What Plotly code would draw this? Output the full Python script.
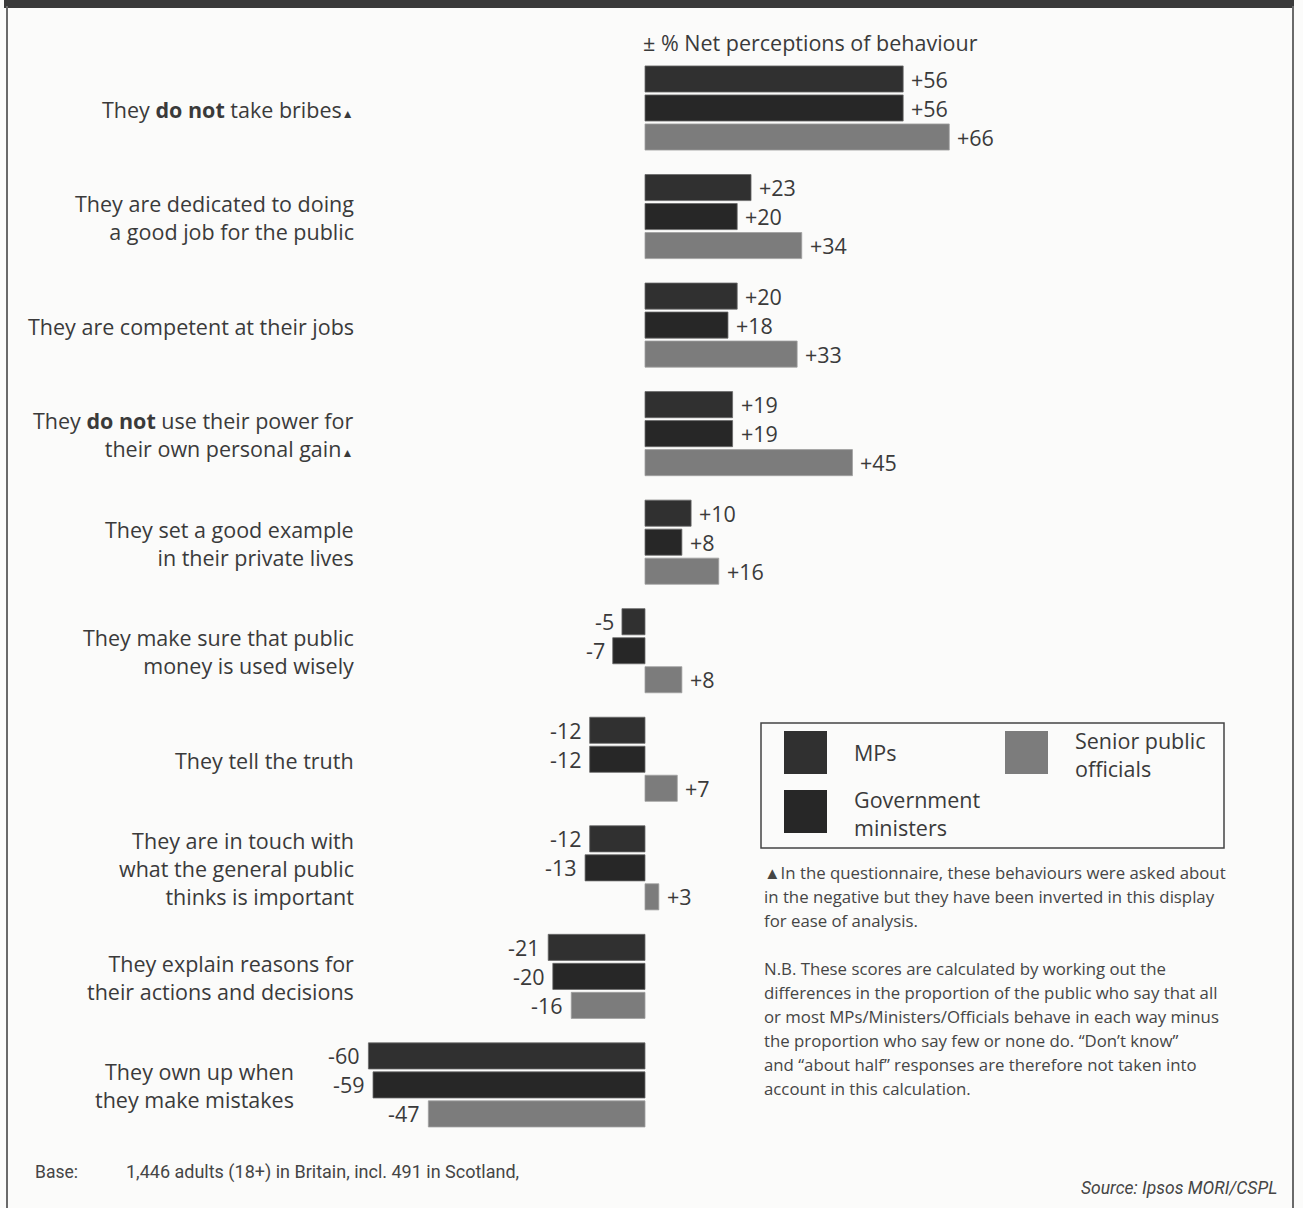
import plotly.graph_objects as go

# Behaviour statements (top to bottom)
behaviours = [
    "They <b>do not</b> take bribes<span style='font-size:12px'>▲</span>",
    "They are dedicated to doing<br>a good job for the public",
    "They are competent at their jobs",
    "They <b>do not</b> use their power for<br>their own personal gain<span style='font-size:12px'>▲</span>",
    "They set a good example<br>in their private lives",
    "They make sure that public<br>money is used wisely",
    "They tell the truth",
    "They are in touch with<br>what the general public<br>thinks is important",
    "They explain reasons for<br>their actions and decisions",
    "They own up when<br>they make mistakes",
]

# Net perception scores (%)
mps = [56, 23, 20, 19, 10, -5, -12, -12, -21, -60]
ministers = [56, 20, 18, 19, 8, -7, -12, -13, -20, -59]
officials = [66, 34, 33, 45, 16, 8, 7, 3, -16, -47]

series = [
    ("MPs", mps, "#303030"),
    ("Government ministers", ministers, "#272727"),
    ("Senior public officials", officials, "#7c7c7c"),
]

W, H = 1303, 1208
GROUP_STEP = 3.743      # slots between group centres
BAR_W = 0.9
TEXT = "#3a3a3a"
FONT = "Open Sans"
LABEL_SIZE = 21.5


def px_x(p):
    return p / W


def px_y(p):
    return 1 - p / H


fig = go.Figure()
annotations = []

for j, (name, vals, col) in enumerate(series):
    ys = [i * GROUP_STEP + (j - 1) for i in range(len(vals))]
    fig.add_trace(go.Bar(
        x=vals,
        y=ys,
        orientation="h",
        name=name,
        width=BAR_W,
        marker=dict(color=col, line=dict(width=0.8, color="#6a6a6a" if j < 2 else "#a0a0a0")),
        showlegend=False,
        hoverinfo="skip",
    ))
    # value labels just beyond the end of each bar
    for v, y in zip(vals, ys):
        annotations.append(dict(
            x=v, xref="x", y=y, yref="y",
            xanchor="left" if v >= 0 else "right", yanchor="middle",
            xshift=6 if v >= 0 else -6,
            text=f"{v:+d}" if v >= 0 else f"{v:d}", showarrow=False,
            font=dict(family=FONT, size=LABEL_SIZE, color=TEXT),
        ))

# Statement labels, right aligned to the left of the bars
for i, lab in enumerate(behaviours):
    right = 296 if i == len(behaviours) - 1 else 356
    annotations.append(dict(
        x=px_x(right), xref="paper", xanchor="right",
        y=i * GROUP_STEP, yref="y", yanchor="middle", yshift=-1,
        text=lab, align="right", showarrow=False,
        font=dict(family=FONT, size=LABEL_SIZE, color=TEXT),
    ))

# Axis heading
annotations.append(dict(
    x=px_x(641), xref="paper", xanchor="left",
    y=px_y(42), yref="paper", yanchor="middle",
    text="± % Net perceptions of behaviour", showarrow=False,
    font=dict(family=FONT, size=LABEL_SIZE, color=TEXT),
))

shapes = [
    # top band
    dict(type="rect", xref="paper", yref="paper",
         x0=px_x(4), x1=px_x(1294), y0=px_y(0), y1=px_y(8),
         fillcolor="#3a3a3a", line=dict(width=0), layer="above"),
    # frame sides
    dict(type="line", xref="paper", yref="paper",
         x0=px_x(7), x1=px_x(7), y0=px_y(6), y1=px_y(1208),
         line=dict(color="#6a6a6a", width=2)),
    dict(type="line", xref="paper", yref="paper",
         x0=px_x(1293), x1=px_x(1293), y0=px_y(6), y1=px_y(1208),
         line=dict(color="#6a6a6a", width=2)),
    # legend frame
    dict(type="rect", xref="paper", yref="paper",
         x0=px_x(761), x1=px_x(1224), y0=px_y(723), y1=px_y(848),
         line=dict(color="#444444", width=1.5), fillcolor="rgba(0,0,0,0)"),
]

# Legend swatches and names
legend_items = [
    ("MPs", "#303030", 784, 731, 852, 752),
    ("Government<br>ministers", "#272727", 784, 790, 852, 813),
    ("Senior public<br>officials", "#7c7c7c", 1005, 731, 1073, 754),
]
for txt, col, sx, sy, tx, ty in legend_items:
    shapes.append(dict(type="rect", xref="paper", yref="paper",
                       x0=px_x(sx), x1=px_x(sx + 43), y0=px_y(sy), y1=px_y(sy + 43),
                       fillcolor=col, line=dict(width=0)))
    annotations.append(dict(
        x=px_x(tx), xref="paper", xanchor="left",
        y=px_y(ty), yref="paper", yanchor="middle",
        text=txt, align="left", showarrow=False,
        font=dict(family=FONT, size=LABEL_SIZE, color=TEXT),
    ))

# Explanatory notes
note1 = ["▲In the questionnaire, these behaviours were asked about",
         "in the negative but they have been inverted in this display",
         "for ease of analysis."]
note2 = ["N.B. These scores are calculated by working out the",
         "differences in the proportion of the public who say that all",
         "or most MPs/Ministers/Officials behave in each way minus",
         "the proportion who say few or none do. “Don’t know”",
         "and “about half” responses are therefore not taken into",
         "account in this calculation."]
for top, lines in ((872, note1), (968, note2)):
    for k, line in enumerate(lines):
        annotations.append(dict(
            x=px_x(762), xref="paper", xanchor="left",
            y=px_y(top + k * 24), yref="paper", yanchor="middle",
            text=line, align="left", showarrow=False,
            font=dict(family=FONT, size=16.8, color="#454545"),
        ))

# Footer
footer_font = dict(family="Liberation Sans Narrow, Roboto, sans-serif", size=17.5, color="#454545")
annotations.append(dict(
    x=px_x(33), xref="paper", xanchor="left",
    y=px_y(1172), yref="paper", yanchor="middle",
    text="Base:", showarrow=False, font=footer_font,
))
annotations.append(dict(
    x=px_x(124), xref="paper", xanchor="left",
    y=px_y(1172), yref="paper", yanchor="middle",
    text="1,446 adults (18+) in Britain, incl. 491 in Scotland,", showarrow=False,
    font=dict(footer_font, size=18),
))
annotations.append(dict(
    x=px_x(1279), xref="paper", xanchor="right",
    y=px_y(1188), yref="paper", yanchor="middle",
    text="<i>Source: Ipsos MORI/CSPL</i>", showarrow=False, font=footer_font,
))

fig.update_layout(
    width=W, height=H,
    margin=dict(l=0, r=0, t=0, b=0),
    paper_bgcolor="#fbfbfa",
    plot_bgcolor="rgba(0,0,0,0)",
    barmode="overlay",
    xaxis=dict(range=[-645 / 4.61, (W - 645) / 4.61], visible=False, fixedrange=True),
    yaxis=dict(range=[(H - 108) / 29, -108 / 29], visible=False, fixedrange=True),
    shapes=shapes,
    annotations=annotations,
)

fig.write_html("out.html")
